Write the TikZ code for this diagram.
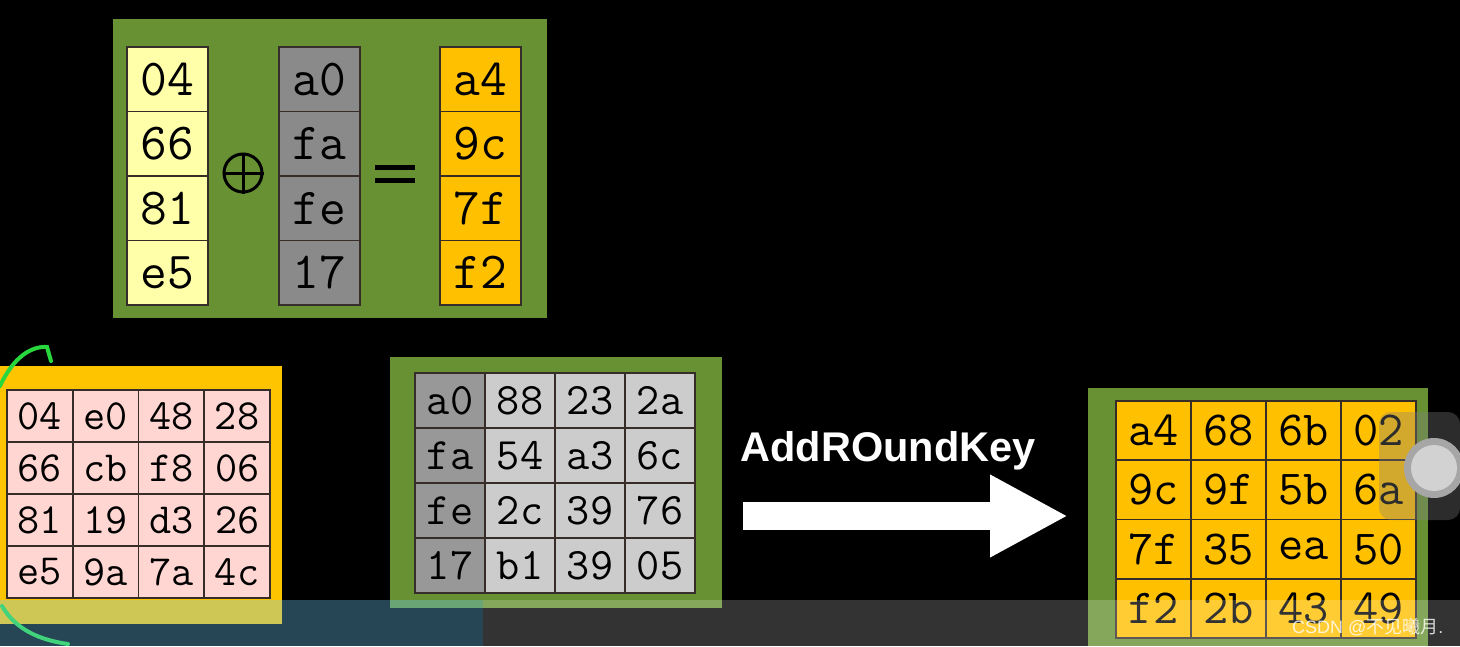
\documentclass[tikz,border=0pt]{standalone}
\usepackage{fontspec}
\setsansfont{Liberation Sans}
\newfontfamily\cjkfont{Noto Sans CJK SC}
\usetikzlibrary{arrows.meta, positioning, calc}

\definecolor{boxgreen}{RGB}{103,145,50}
\definecolor{stateyellow}{RGB}{255,255,170}
\definecolor{statepink}{RGB}{255,214,210}
\definecolor{stateframe}{RGB}{255,196,0}
\definecolor{keygray}{RGB}{138,138,138}
\definecolor{keydark}{RGB}{152,152,152}
\definecolor{keylight}{RGB}{204,204,204}
\definecolor{resorange}{RGB}{255,192,0}
\definecolor{cellline}{RGB}{55,45,40}
\definecolor{handgreen}{RGB}{40,215,60}
\definecolor{barblue}{RGB}{112,206,250}

\newcommand\cellsize[1]{\ttfamily\fontsize{#1}{#1}\selectfont\addfontfeatures{FakeBold=0.5}}

\begin{document}
\begin{tikzpicture}[
    x=1pt, y=-1pt,
    cell/.style={draw=cellline, line width=1.6pt, inner sep=0pt},
    colcell/.style={cell, minimum width=81pt, minimum height=64.5pt, font=\cellsize{52}},
    statecell/.style={cell, fill=statepink, minimum width=65.75pt, minimum height=52pt, font=\cellsize{43}},
    keycell/.style={cell, minimum width=70pt, minimum height=55pt, font=\cellsize{45}},
    rescell/.style={cell, fill=resorange, minimum width=75pt, minimum height=59.25pt, font=\cellsize{49}},
    panel/.style={fill=boxgreen}
]

% BACKGROUND
\useasboundingbox (0,0) rectangle (1460,646);
\fill[black] (0,0) rectangle (1460,646);

% XOR OF ONE COLUMN
\fill[panel] (113,19) rectangle (547,318);
\foreach \v [count=\i from 0] in {04,66,81,e5}
    \node[colcell, fill=stateyellow] (st\i) at (167.5, 79.25+64.5*\i) {\v};
\foreach \v [count=\i from 0] in {a0,fa,fe,17}
    \node[colcell, fill=keygray] (ky\i) at (319.5, 79.25+64.5*\i) {\v};
\foreach \v [count=\i from 0] in {a4,9c,7f,f2}
    \node[colcell, fill=resorange] (rs\i) at (480.5, 79.25+64.5*\i) {\v};

\node[circle, draw=black, line width=3pt, minimum size=38pt, inner sep=0pt] (xor) at (243,173) {};
\draw[line width=3pt] (xor.north) -- (xor.south) (xor.west) -- (xor.east);
\node[minimum width=40pt, minimum height=13pt, inner sep=0pt] (eq) at (395,174) {};
\draw[line width=5.5pt] (eq.north west) -- (eq.north east) (eq.south west) -- (eq.south east);

% STATE
\fill[stateframe] (0,366) rectangle (282,624);
\foreach \row [count=\r from 0] in {{04,e0,48,28},{66,cb,f8,06},{81,19,d3,26},{e5,9a,7a,4c}}
    \foreach \v [count=\c from 0] in \row
        \node[statecell] (s\r\c) at (39.875+65.75*\c, 416+52*\r) {\v};

% ROUND KEY
\fill[panel] (390,357) rectangle (722,608);
\foreach \row [count=\r from 0] in {{a0,88,23,2a},{fa,54,a3,6c},{fe,2c,39,76},{17,b1,39,05}}
    \foreach \v [count=\c from 0] in \row {
        \ifnum\c=0 \def\kfill{keydark}\else\def\kfill{keylight}\fi
        \node[keycell, fill=\kfill] (k\r\c) at (450+70*\c, 400.5+55*\r) {\v};
    }

% ARROW
\coordinate (arrstart) at (743,516);
\coordinate (arrend) at (1068,516);
\draw[white, line width=28pt, -{Triangle[length=78pt 0, width=77pt 0]}] (arrstart) -- (arrend);
\node[white, font=\sffamily\bfseries\fontsize{41.5}{41.5}\selectfont] (title) at (888,451) {AddROundKey};

% RESULT
\fill[panel] (1088,388) rectangle (1428,646);
\foreach \row [count=\r from 0] in {{a4,68,6b,02},{9c,9f,5b,6a},{7f,35,ea,50},{f2,2b,43,49}}
    \foreach \v [count=\c from 0] in \row
        \node[rescell] (r\r\c) at (1153.5+75*\c, 430.6+59.25*\r) {\v};

% OVERLAYS
\draw[handgreen, line width=4pt, line cap=round] (0,386) .. controls (14,356) and (32,346) .. (47,347) -- (51,361);
\draw[handgreen, line width=4pt, line cap=round] (2,606) .. controls (16,630) and (40,640) .. (68,644);
\fill[barblue, opacity=0.34] (0,600) rectangle (483,646);
\fill[white, opacity=0.2] (483,600) rectangle (1460,646);
\fill[gray, opacity=0.35, rounded corners=12pt] (1379,412) -- (1460,412) -- (1460,520) -- (1379,520) -- cycle;
\fill[gray!70] (1434,468) circle (30);
\fill[gray!35] (1434,468) circle (23);
\node[anchor=west, text=white, opacity=0.8, inner sep=0pt, font=\sffamily\fontsize{18}{18}\selectfont] (mark) at (1292,627) {CSDN @{\cjkfont 不见曦月}.};

\end{tikzpicture}
\end{document}
